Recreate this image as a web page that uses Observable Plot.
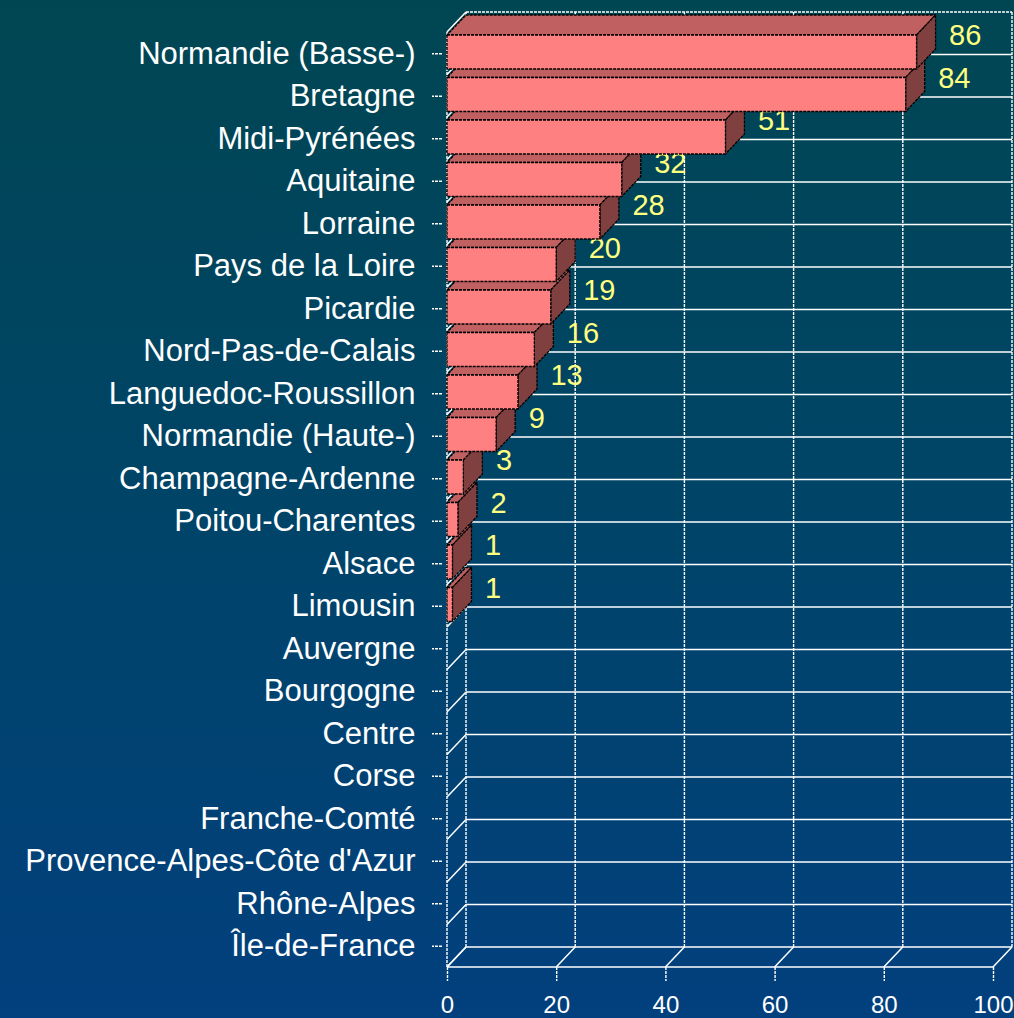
<!DOCTYPE html>
<html><head><meta charset="utf-8">
<script src="https://cdn.jsdelivr.net/npm/d3@7"></script>
<script src="https://cdn.jsdelivr.net/npm/@observablehq/plot@0.6"></script>
<style>
html,body{margin:0;padding:0;width:1014px;height:1018px;overflow:hidden;background:linear-gradient(180deg,#004652 0%,#004468 50%,#02407e 100%);}
#chart svg{display:block}
</style></head><body><div id="chart"></div>
<script>
const regions = ["Normandie (Basse-)", "Bretagne", "Midi-Pyrénées", "Aquitaine", "Lorraine", "Pays de la Loire", "Picardie", "Nord-Pas-de-Calais", "Languedoc-Roussillon", "Normandie (Haute-)", "Champagne-Ardenne", "Poitou-Charentes", "Alsace", "Limousin", "Auvergne", "Bourgogne", "Centre", "Corse", "Franche-Comté", "Provence-Alpes-Côte d'Azur", "Rhône-Alpes", "Île-de-France"];
const counts = [86, 84, 51, 32, 28, 20, 19, 16, 13, 9, 3, 2, 1, 1, 0, 0, 0, 0, 0, 0, 0, 0];
const xTicks = [0, 20, 40, 60, 80, 100];

const data = regions.map((region, i) => ({region, count: counts[i]}));
const DX = 19, DY = -20;

function line(g, x1, y1, x2, y2, opts = {}) {
  g.append("line").attr("x1", x1).attr("y1", y1).attr("x2", x2).attr("y2", y2)
    .attr("stroke", opts.stroke || "white")
    .attr("stroke-width", opts.width || 1.5)
    .attr("stroke-dasharray", opts.dash || null);
}

function walls(index, scales) {
  const x = scales.x, y = scales.y, bw = y.bandwidth();
  const [d0, d1] = x.domain();
  const x0 = x(d0), x1 = x(d1);
  const bounds = regions.map(r => y(r));
  const yTop = bounds[0], yBot = bounds[bounds.length - 1] + bw;
  bounds.push(yBot);
  const g = d3.create("svg:g");
  for (const v of xTicks) line(g, x(v) + DX, yTop + DY, x(v) + DX, yBot + DY, {dash: "3,1", width: 1.4});
  bounds.forEach((b, k) => {
    line(g, x0 + DX, b + DY, x1 + DX, b + DY, k === 0 ? {dash: "3,1", width: 1.4} : {});
    line(g, x0, b, x0 + DX, b + DY);
  });
  line(g, x0, yTop, x0, yBot, {dash: "3,1", width: 1.4});
  line(g, x0, yBot, x1, yBot);
  for (const v of xTicks) line(g, x(v), yBot, x(v) + DX, yBot + DY);
  return g.node();
}

function bars3d(index, scales) {
  const x = scales.x, y = scales.y, bw = y.bandwidth();
  const g = d3.create("svg:g")
    .attr("stroke", "black").attr("stroke-width", 1.3).attr("stroke-dasharray", "3,1").attr("stroke-linejoin", "round");
  for (let i = data.length - 1; i >= 0; --i) {
    const d = data[i];
    if (!(d.count > 0)) continue;
    const yt = y(d.region) + 3, yb = y(d.region) + bw - 5.5;
    const xl = x(0), xr = x(d.count);
    const pts = a => a.map(p => p.join(",")).join(" ");
    g.append("polygon").attr("fill", "#c06060")
      .attr("points", pts([[xl, yt], [xr, yt], [xr + DX, yt + DY], [xl + DX, yt + DY]]));
    g.append("polygon").attr("fill", "#804040")
      .attr("points", pts([[xr, yt], [xr + DX, yt + DY], [xr + DX, yb + DY], [xr, yb]]));
    g.append("polygon").attr("fill", "#ff8080")
      .attr("points", pts([[xl, yt], [xr, yt], [xr, yb], [xl, yb]]));
  }
  return g.node();
}

const chart = Plot.plot({
  width: 1014,
  height: 1018,
  marginLeft: 447,
  marginRight: 21,
  marginTop: 32,
  marginBottom: 51,
  x: {type: "linear", domain: [0, 100]},
  y: {type: "band", domain: regions, padding: 0, round: false},
  style: {background: "transparent", color: "white", fontFamily: "'Liberation Sans', Arial, sans-serif", fontSize: "31px", overflow: "visible"},
  marks: [
    walls,
    Plot.text(data.filter(d => d.count > 0), {
      x: "count", y: "region", text: d => String(d.count),
      dx: 32, dy: -18, textAnchor: "start", fill: "#ffff80", fontSize: 29
    }),
    bars3d,
    Plot.axisY({tickSize: 10, dx: -5, tickPadding: 17, fontSize: 31, strokeDasharray: "3,1", strokeWidth: 1.4, label: null, color: "white"}),
    Plot.axisX({ticks: xTicks, tickFormat: d => String(d), tickSize: 14, tickPadding: 14, fontSize: 24, strokeDasharray: "3,1", strokeWidth: 1.4, label: null, color: "white"})
  ]
});
document.getElementById("chart").appendChild(chart);
</script>
</body></html>
